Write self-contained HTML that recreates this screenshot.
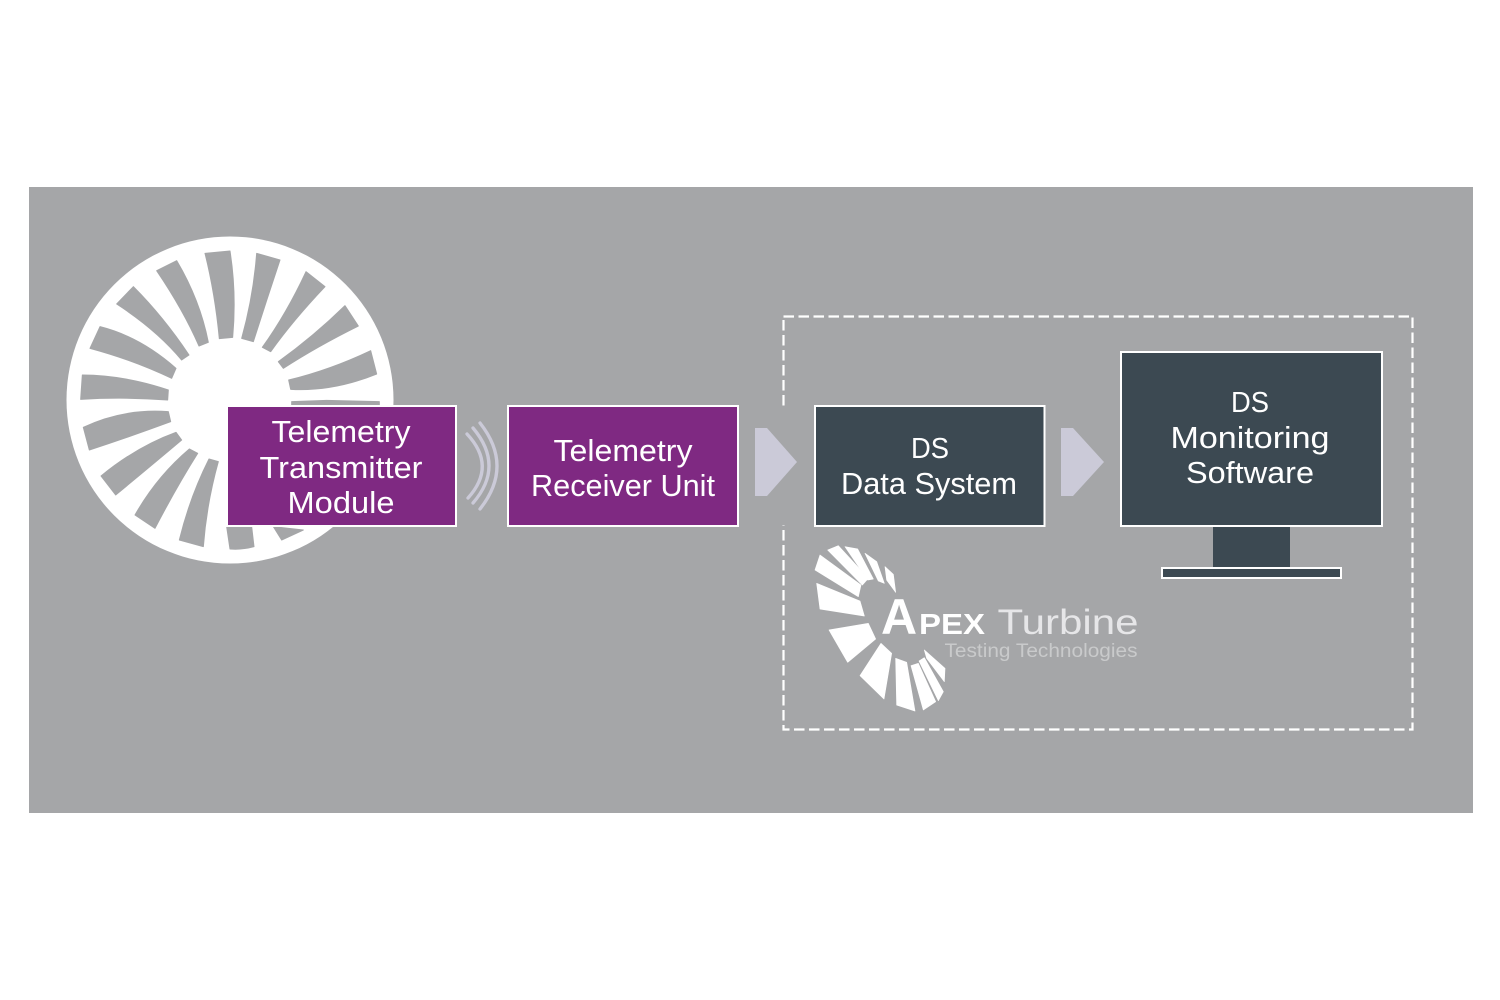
<!DOCTYPE html>
<html><head><meta charset="utf-8"><style>html,body{margin:0;padding:0;background:#fff}svg{display:block}text{font-family:"Liberation Sans",sans-serif;fill:#fff;text-anchor:middle}</style></head>
<body><svg width="1500" height="1000" viewBox="0 0 1500 1000" xmlns="http://www.w3.org/2000/svg">
<rect width="1500" height="1000" fill="#fff"/>
<rect x="29" y="187" width="1444" height="626" fill="#a5a6a8"/>
<circle cx="230" cy="400" r="163.5" fill="#fff"/>
<g transform="translate(50,220) scale(.33333)" fill="#a5a6a8" stroke="#a5a6a8" stroke-width="3" stroke-linejoin="round">
<path d="M465 100L540 93Q560 220 548 352L508 356Q495 220 465 100Z"/>
<path d="M620 100L690 120Q650 240 610 365L575 355Q610 230 620 100Z"/>
<path d="M768 155L825 200Q730 300 662 395L637 382Q710 280 768 155Z"/>
<path d="M885 257L925 318Q800 380 700 445L685 425Q790 350 885 257Z"/>
<path d="M962 392L980 462Q850 515 722 508L716 480Q840 450 962 392Z"/>
<path d="M725 545L830 541L988 545V560H725Z"/>
<path d="M530 920H605L612 980Q575 990 540 987Z"/>
<path d="M670 920L760 930L695 960Z"/>
<path d="M250 200L200 252Q320 330 395 420L417 405Q340 290 250 200Z"/>
<path d="M380 122L320 152Q400 270 447 378L475 367Q450 240 380 122Z"/>
<path d="M150 320L120 385Q250 420 365 475L378 445Q270 350 150 320Z"/>
<path d="M97 465L92 538Q220 530 353 540L355 510Q220 465 97 465Z"/>
<path d="M100 622L118 690Q240 650 362 605L355 575Q220 565 100 622Z"/>
<path d="M153 768L197 825Q300 740 395 660L378 637Q260 680 153 768Z"/>
<path d="M255 885L315 925Q380 800 443 700L418 687Q320 770 255 885Z"/>
<path d="M388 960L460 980Q470 850 505 725L477 717Q420 830 388 960Z"/>
</g>
<g fill="none" stroke="#cbcad8" stroke-width="3.3" stroke-linecap="round">
<path d="M467 434Q497 466 468 498"/>
<path d="M473 428Q505 466 473 503"/>
<path d="M480 423Q514 466 480 509"/>
</g>
<rect x="783.5" y="316.500" width="629" height="413" fill="none" stroke="#fff" stroke-width="2.2" stroke-dasharray="10.500 4.500"/>
<rect x="775" y="406" width="20" height="119" fill="#a5a6a8"/>
<g fill="#7f2982" stroke="#fff" stroke-width="2">
<rect x="227" y="406" width="229" height="120"/>
<rect x="508" y="406" width="230" height="120"/>
</g>
<g fill="#3c4952" stroke="#fff" stroke-width="2">
<rect x="815" y="406" width="229.500" height="120"/>
<rect x="1121" y="352" width="261" height="174"/>
</g>
<rect x="1213" y="527" width="77" height="40" fill="#3c4952"/>
<rect x="1162" y="568" width="179" height="10" fill="#3c4952" stroke="#fff" stroke-width="2"/>
<path d="M755 428H767L797 462L767 496H755Z" fill="#cbcad8"/>
<path d="M1061 428H1073L1104 462L1073 496H1061Z" fill="#cbcad8"/>
<g font-size="31">
<text x="341" y="442" textLength="139" lengthAdjust="spacingAndGlyphs">Telemetry</text>
<text x="341" y="478" textLength="163" lengthAdjust="spacingAndGlyphs">Transmitter</text>
<text x="341" y="513" textLength="107" lengthAdjust="spacingAndGlyphs">Module</text>
<text x="623" y="461" textLength="139" lengthAdjust="spacingAndGlyphs">Telemetry</text>
<text x="623" y="496" textLength="184" lengthAdjust="spacingAndGlyphs">Receiver Unit</text>
<text x="930" y="458" font-size="29" textLength="38" lengthAdjust="spacingAndGlyphs">DS</text>
<text x="929" y="494" textLength="176" lengthAdjust="spacingAndGlyphs">Data System</text>
<text x="1250" y="412" font-size="29" textLength="38" lengthAdjust="spacingAndGlyphs">DS</text>
<text x="1250" y="448" textLength="159" lengthAdjust="spacingAndGlyphs">Monitoring</text>
<text x="1250" y="483" textLength="128" lengthAdjust="spacingAndGlyphs">Software</text>
</g>
<g transform="translate(805,535) scale(.33333)" fill="#fff" stroke="#fff" stroke-width="2" stroke-linejoin="round">
<path d="M45 60L30 105L160 185L168 150Z"/>
<path d="M68 45L100 32L190 130L172 150Z"/>
<path d="M120 35L158 42L205 132L188 135Z"/>
<path d="M180 55L215 80L238 145L220 138Z"/>
<path d="M240 95L265 118L272 172L245 135Z"/>
<path d="M35 145L45 222L178 243L165 198Z"/>
<path d="M72 285L190 265L212 312L128 382Z"/>
<path d="M228 325L260 355L237 492L165 422Z"/>
<path d="M272 370L305 382L330 528L275 510Z"/>
<path d="M318 392L340 385L392 500L355 525Z"/>
<path d="M342 378L358 368L415 470L400 497Z"/>
<path d="M358 345L420 400L418 440L365 370Z"/>
</g>
<text x="899" y="634" font-size="50" font-weight="bold">A</text>
<text x="952" y="634" font-size="29" font-weight="bold" textLength="66" lengthAdjust="spacingAndGlyphs">PEX</text>
<text x="1068" y="634" font-size="35" textLength="141" lengthAdjust="spacingAndGlyphs" style="fill:#eeeeef" opacity=".9">Turbine</text>
<text x="1041" y="657" font-size="19" textLength="193" lengthAdjust="spacingAndGlyphs" style="fill:#c9cacb">Testing Technologies</text>
</svg></body></html>
